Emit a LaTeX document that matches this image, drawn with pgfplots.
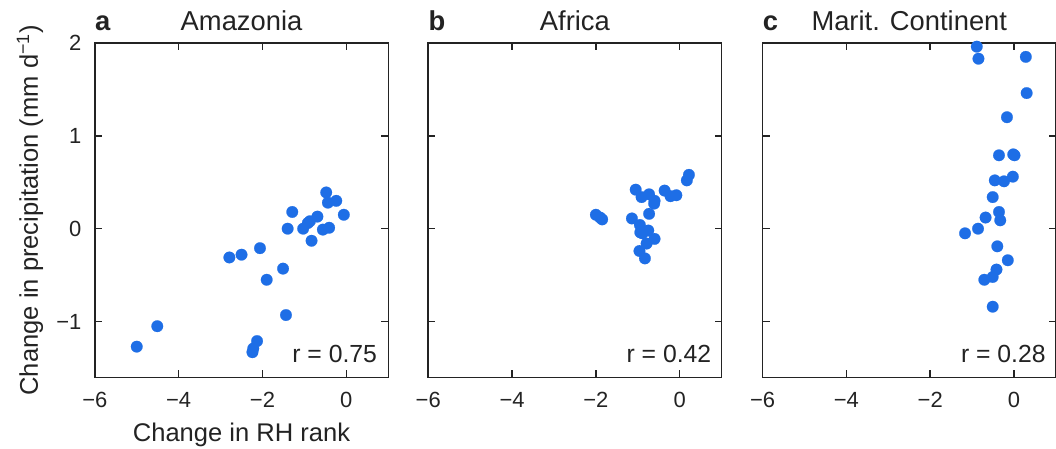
\documentclass[border=0pt]{standalone}
\usepackage{pgfplots}
\pgfplotsset{compat=1.18}
\usepackage{fontspec}
\setmainfont{Liberation Sans}
\definecolor{dot}{RGB}{30,110,230}
\definecolor{axc}{RGB}{35,35,35}
\newcommand{\tickfont}{\fontsize{11}{13}\selectfont}
\newcommand{\rfont}{\fontsize{12.4}{15}\selectfont}
\newcommand{\labfont}{\fontsize{12.8}{15}\selectfont}
\newcommand{\titfont}{\fontsize{13.7}{16}\selectfont}
\pgfplotsset{
  panel/.style={
    scale only axis, width=147pt, height=167.5pt,
    xmin=-6, xmax=1, ymin=-1.6, ymax=2,
    xtick={-6,-4,-2,0}, xticklabels={−6,−4,−2,0},
    ytick={-1,0,1,2},
    tick align=inside, major tick length=3.5pt,
    axis line style={axc, line width=0.75pt},
    every tick/.style={axc, line width=0.75pt},
    xticklabel style={anchor=north, inner sep=0pt, yshift=-7.5pt, font=\tickfont, text=axc},
    yticklabel style={anchor=east, inner sep=0pt, xshift=-6.5pt, font=\tickfont, text=axc},
    clip=false,
    axis background/.style={fill=white},
  },
  dots/.style={only marks, mark=*, mark size=2.9pt, color=dot, mark options={fill=dot, draw=dot, line width=0.1pt}},
}
\begin{document}
\begin{tikzpicture}
\useasboundingbox (0,0) rectangle (529pt,-224.5pt);
% Panel a
\begin{axis}[panel, at={(47.5pt,-189pt)}, anchor=south west,
  yticklabels={−1,0,1,2},
  xlabel={Change in RH rank},
  xlabel style={at={(axis description cs:0.5,0)}, anchor=base, yshift=-32pt, inner sep=0pt, font=\labfont, text=axc},
  ylabel={Change in precipitation (mm d\textsuperscript{−1})},
  ylabel style={at={(axis description cs:-0.221,0.5)}, anchor=center, rotate=0, inner sep=0pt, font=\labfont, text=axc},
]
\addplot[dots] coordinates {
(-0.48,0.39) (-0.44,0.28) (-0.24,0.30) (-0.06,0.15) (-1.29,0.18)
(-0.69,0.13) (-0.87,0.08) (-1.40,0.00) (-1.03,0.00) (-0.56,-0.01)
(-0.41,0.01) (-0.83,-0.13) (-2.06,-0.21) (-2.50,-0.28) (-2.79,-0.31)
(-1.51,-0.43) (-1.90,-0.55) (-1.44,-0.93) (-4.51,-1.05) (-5.00,-1.27)
(-2.13,-1.21) (-2.22,-1.29) (-2.24,-1.33) (-0.92,0.06)
};
\node[anchor=base west, inner sep=0pt, font=\bfseries\titfont, text=axc, yshift=6pt] at (rel axis cs:0,1) {a};
\node[anchor=base, inner sep=0pt, font=\titfont, text=axc, yshift=6pt] at (rel axis cs:0.5,1) {Amazonia};
\node[anchor=base east, inner sep=0pt, font=\rfont, text=axc] at (rel axis cs:0.963,0.045) {r = 0.75};
\end{axis}
% Panel b
\begin{axis}[panel, at={(214.5pt,-189pt)}, anchor=south west,
  yticklabels={},
]
\addplot[dots] coordinates {
(0.22,0.58) (0.17,0.52) (-1.05,0.42) (-0.36,0.41) (-0.22,0.35)
(-0.08,0.36) (-0.91,0.34) (-0.73,0.37) (-0.60,0.30) (-0.61,0.27)
(-0.73,0.16) (-2.00,0.15) (-1.90,0.12) (-1.85,0.10) (-1.14,0.11)
(-0.95,0.04) (-0.94,-0.04) (-0.75,-0.02) (-0.60,-0.11) (-0.79,-0.16)
(-0.96,-0.24) (-0.83,-0.32) (-0.89,-0.05)
};
\node[anchor=base west, inner sep=0pt, font=\bfseries\titfont, text=axc, yshift=6pt] at (rel axis cs:0,1) {b};
\node[anchor=base, inner sep=0pt, font=\titfont, text=axc, yshift=6pt] at (rel axis cs:0.5,1) {Africa};
\node[anchor=base east, inner sep=0pt, font=\rfont, text=axc] at (rel axis cs:0.966,0.045) {r = 0.42};
\end{axis}
% Panel c
\begin{axis}[panel, at={(382pt,-189pt)}, anchor=south west,
  yticklabels={},
]
\addplot[dots] coordinates {
(-0.89,1.96) (-0.85,1.83) (0.28,1.85) (0.30,1.46) (-0.17,1.20)
(-0.36,0.79) (-0.02,0.80) (0.01,0.79) (-0.46,0.52) (-0.24,0.51)
(-0.03,0.56) (-0.51,0.34) (-0.36,0.18) (-0.33,0.09) (-0.68,0.12)
(-0.86,0.00) (-1.17,-0.05) (-0.40,-0.19) (-0.15,-0.34) (-0.42,-0.44)
(-0.51,-0.52) (-0.71,-0.55) (-0.51,-0.84)
};
\node[anchor=base west, inner sep=0pt, font=\bfseries\titfont, text=axc, yshift=6pt] at (rel axis cs:0,1) {c};
\node[anchor=base, inner sep=0pt, font=\titfont, text=axc, yshift=6pt] at (rel axis cs:0.5,1) {Marit. Continent};
\node[anchor=base east, inner sep=0pt, font=\rfont, text=axc] at (rel axis cs:0.966,0.045) {r = 0.28};
\end{axis}
\end{tikzpicture}
\end{document}
